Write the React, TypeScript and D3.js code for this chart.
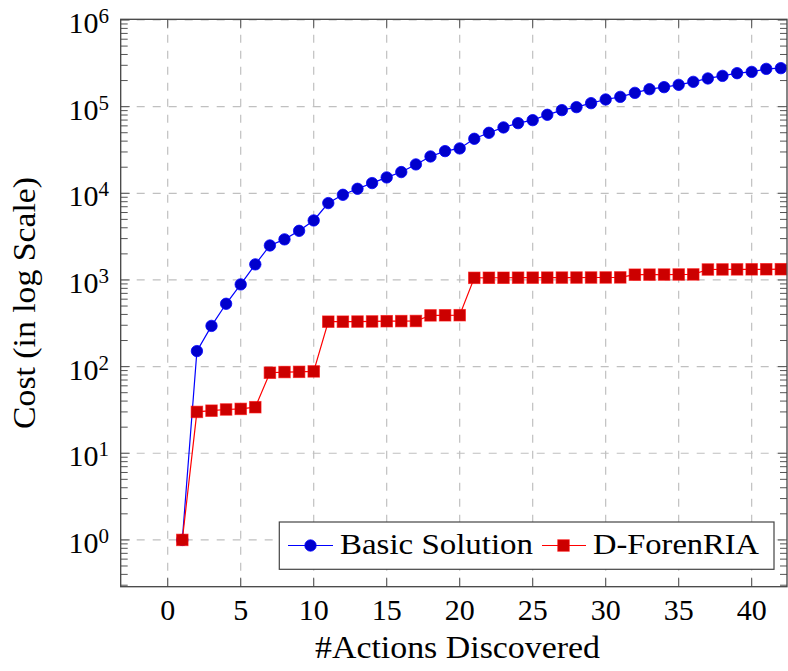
import React from "react";
import * as d3 from "d3";

const actions = [1,2,3,4,5,6,7,8,9,10,11,12,13,14,15,16,17,18,19,20,21,22,23,24,25,26,27,28,29,30,31,32,33,34,35,36,37,38,39,40,41,42];
const basicSolution = [1,151,295,531,888,1513,2500,2940,3690,4860,7710,9610,11270,13120,15250,17580,21540,26610,30680,32950,42560,49900,57570,64530,69840,80500,91170,98700,109700,121000,129700,144300,159100,167900,178500,193300,211500,226500,243300,251800,272900,278000];
const dForenRIA = [1,30,31,32,32.5,34,85,86.5,87,88,330,330,331,332,334,335,336,390,391,392,1058,1060,1060,1062,1063,1064,1065,1066,1067,1068,1070,1150,1152,1154,1156,1158,1320,1322,1324,1326,1328,1330];
const xTicks = [0,5,10,15,20,25,30,35,40];
const yExponents = [0,1,2,3,4,5,6];
const seriesNames = ["Basic Solution", "D-ForenRIA"];

const W = 788, H = 671;
const L = 120.7, R = 787, T = 19.3, B = 586.7;
const FONT = "Liberation Serif";

export default function App() {
  const x = d3.scaleLinear().domain([-3.22, 42.42]).range([L, R]);
  const y = d3.scaleLog().domain([Math.pow(10, -0.54), Math.pow(10, 6.008)]).range([B, T]);

  const minor: number[] = [];
  for (let e = -1; e <= 6; e++) {
    for (let m = 2; m <= 9; m++) {
      const v = m * Math.pow(10, e);
      const py = y(v);
      if (py <= B && py >= T) minor.push(v);
    }
  }

  const line = d3.line<number>().x((_, i) => x(actions[i])).y((d) => y(d));
  const blue = "#0000ff", blueFill = "#0000cc";
  const red = "#ff0000", redFill = "#cc0000";
  const r = 5.7, sq = 11.5;
  const axisColor = "#444";
  const tickColor = "#555";
  const gridColor = "#c0c0c0";
  const ts = { fontFamily: FONT };

  return (
    <svg width={W} height={H} style={{ position: "absolute", left: 0, top: 0, background: "#fff" }}>
      <rect x={0} y={0} width={W} height={H} fill="#fff" />
      <g stroke={gridColor} strokeWidth={1.2} strokeDasharray="8,8">
        {xTicks.map((t) => (
          <line key={"gx" + t} x1={x(t)} x2={x(t)} y1={B} y2={T} />
        ))}
        {yExponents.map((e) => (
          <line key={"gy" + e} x1={L} x2={R} y1={y(Math.pow(10, e))} y2={y(Math.pow(10, e))} />
        ))}
      </g>
      <g stroke={tickColor} strokeWidth={1}>
        {xTicks.map((t) => (
          <g key={"tx" + t}>
            <line x1={x(t)} x2={x(t)} y1={B} y2={B - 9} />
            <line x1={x(t)} x2={x(t)} y1={T} y2={T + 9} />
          </g>
        ))}
        {yExponents.map((e) => (
          <g key={"ty" + e}>
            <line x1={L} x2={L + 9} y1={y(Math.pow(10, e))} y2={y(Math.pow(10, e))} />
            <line x1={R} x2={R - 9} y1={y(Math.pow(10, e))} y2={y(Math.pow(10, e))} />
          </g>
        ))}
        {minor.map((v, i) => (
          <g key={"m" + i}>
            <line x1={L} x2={L + 7} y1={y(v)} y2={y(v)} />
            <line x1={R} x2={R - 7} y1={y(v)} y2={y(v)} />
          </g>
        ))}
      </g>
      <path d={line(basicSolution) || ""} fill="none" stroke={blue} strokeWidth={1.2} />
      {basicSolution.map((v, i) => (
        <circle key={"b" + i} cx={x(actions[i])} cy={y(v)} r={r} fill={blueFill} stroke={blue} strokeWidth={0.8} />
      ))}
      <path d={line(dForenRIA) || ""} fill="none" stroke={red} strokeWidth={1.2} />
      {dForenRIA.map((v, i) => (
        <rect key={"r" + i} x={x(actions[i]) - sq / 2} y={y(v) - sq / 2} width={sq} height={sq} fill={redFill} stroke={red} strokeOpacity={0.6} strokeWidth={1} />
      ))}
      <rect x={L} y={T} width={R - L} height={B - T} fill="none" stroke={axisColor} strokeWidth={1.3} />
      <g fontSize={30} fill="#000">
        {xTicks.map((t) => (
          <text key={"lx" + t} style={ts} x={x(t)} y={620} textAnchor="middle">{t}</text>
        ))}
        {yExponents.map((e) => (
          <text key={"ly" + e} style={ts} x={109} y={y(Math.pow(10, e)) + 13} textAnchor="end">
            10<tspan dy={-10} fontSize={21}>{e}</tspan>
          </text>
        ))}
      </g>
      <text style={ts} x={(315 + 600) / 2} y={658} fontSize={31} textAnchor="middle" textLength={285} lengthAdjust="spacingAndGlyphs">#Actions Discovered</text>
      <text style={ts} transform={`translate(35, ${(T + B) / 2}) rotate(-90)`} fontSize={31} textAnchor="middle" textLength={252} lengthAdjust="spacingAndGlyphs">Cost (in log Scale)</text>
      <g>
        <rect x={279.3} y={522} width={494.7} height={47.3} fill="#fff" stroke={axisColor} strokeWidth={1.2} />
        <line x1={288} x2={333} y1={545.5} y2={545.5} stroke={blue} strokeWidth={1.2} />
        <circle cx={310.5} cy={545.5} r={r} fill={blueFill} stroke={blue} strokeWidth={0.8} />
        <text style={ts} x={340} y={554} fontSize={30} textLength={193} lengthAdjust="spacingAndGlyphs">{seriesNames[0]}</text>
        <line x1={542} x2={586} y1={545.5} y2={545.5} stroke={red} strokeWidth={1.2} />
        <rect x={563.5 - sq / 2} y={545.5 - sq / 2} width={sq} height={sq} fill={redFill} stroke={red} strokeOpacity={0.6} strokeWidth={1} />
        <text style={ts} x={593} y={554} fontSize={30} textLength={166} lengthAdjust="spacingAndGlyphs">{seriesNames[1]}</text>
      </g>
    </svg>
  );
}
